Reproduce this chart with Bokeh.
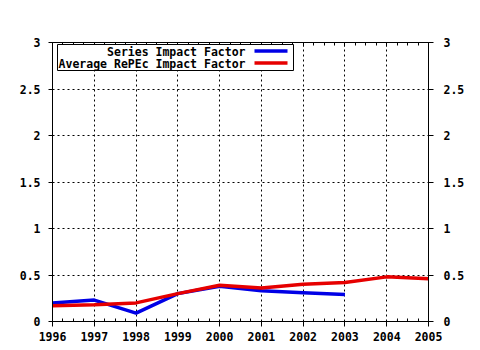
from bokeh.plotting import figure
from bokeh.models import (Range1d, LinearAxis, FixedTicker, BoxAnnotation, Label, CustomJSTickFormatter)
from bokeh.embed import file_html
from bokeh.resources import INLINE

years = [1996, 1997, 1998, 1999, 2000, 2001, 2002, 2003, 2004, 2005]
series_years = [1996, 1997, 1998, 1999, 2000, 2001, 2002, 2003]
series_if = [0.20, 0.23, 0.09, 0.30, 0.38, 0.33, 0.31, 0.29]
avg_years = [1996, 1997, 1998, 1999, 2000, 2001, 2002, 2003, 2004, 2005]
avg_if = [0.17, 0.18, 0.20, 0.30, 0.39, 0.36, 0.40, 0.42, 0.48, 0.46]
y_ticks = [0, 0.5, 1, 1.5, 2, 2.5, 3]
y_tick_labels = ["0", "0.5", "1", "1.5", "2", "2.5", "3"]
series_names = ["Series Impact Factor", "Average RePEc Impact Factor"]
colors = ["#0000e6", "#e60000"]

FONT = "DejaVu Sans Mono"
FS = "11.5px"

p = figure(width=480, height=350, output_backend="svg", toolbar_location=None,
           x_range=Range1d(1996, 2005), y_range=Range1d(0, 3),
           min_border_left=52, min_border_right=52, min_border_top=42, min_border_bottom=29,
           x_axis_location=None, y_axis_location=None)
p.background_fill_color = "white"
p.border_fill_color = "white"
p.outline_line_color = "black"
p.outline_line_width = 1

overrides = {t: l for t, l in zip(y_ticks, y_tick_labels)}
minor_x = [y + q / 4 for y in years[:-1] for q in (1, 2, 3)]

def style(ax):
    ax.axis_line_color = "black"
    ax.major_tick_line_color = "black"
    ax.minor_tick_line_color = "black"
    ax.major_label_text_font = FONT
    ax.major_label_text_font_style = "bold"
    ax.major_label_text_font_size = FS
    ax.major_label_text_color = "black"

bottom = LinearAxis(ticker=FixedTicker(ticks=years, minor_ticks=minor_x))
style(bottom)
bottom.major_tick_out = 5
bottom.major_tick_in = 0
bottom.minor_tick_in = 3
bottom.minor_tick_out = 0
bottom.major_label_standoff = 5
p.add_layout(bottom, "below")

top = LinearAxis(ticker=FixedTicker(ticks=years, minor_ticks=minor_x),
                 formatter=CustomJSTickFormatter(code="return ''"))
style(top)
top.major_tick_out = 0
top.major_tick_in = 4
top.minor_tick_in = 3
top.minor_tick_out = 0
top.major_label_standoff = 0
p.add_layout(top, "above")

left = LinearAxis(ticker=FixedTicker(ticks=y_ticks), major_label_overrides=overrides)
style(left)
left.major_tick_out = 4
left.major_tick_in = 0
left.minor_tick_in = 0
left.minor_tick_out = 0
left.major_label_standoff = 8
p.add_layout(left, "left")

right = LinearAxis(ticker=FixedTicker(ticks=y_ticks), major_label_overrides=overrides)
style(right)
right.major_tick_out = 5
right.major_tick_in = 0
right.minor_tick_in = 0
right.minor_tick_out = 0
right.major_label_standoff = 10
p.add_layout(right, "right")

p.xgrid.ticker = FixedTicker(ticks=years)
p.ygrid.ticker = FixedTicker(ticks=y_ticks)
for g in (p.xgrid, p.ygrid):
    g.grid_line_color = "black"
    g.grid_line_dash = "2 3"
    g.grid_line_width = 1

p.line(series_years, series_if, line_color=colors[0], line_width=3.5)
p.line(avg_years, avg_if, line_color=colors[1], line_width=3.5)

# legend (drawn manually: text right-aligned, sample line on the right)
def px_x(px):
    return 1996 + (px - 52) * 9 / 376

def px_y(py):
    return (321 - py) / 93

p.add_layout(BoxAnnotation(left=px_x(57), right=px_x(293), top=px_y(44), bottom=px_y(70),
                           fill_color="white", fill_alpha=1, line_color="black",
                           line_alpha=1, line_width=1))
rows_y = [51.5, 63.5]
for name, col, ry in zip(series_names, colors, rows_y):
    p.add_layout(Label(x=px_x(245), y=px_y(ry), text=name, text_align="right",
                       text_baseline="middle", text_font=FONT, text_font_style="bold",
                       text_font_size=FS, text_color="black"))
seg = p.segment(x0=[px_x(254)] * 2, x1=[px_x(287)] * 2, y0=[px_y(r - 1) for r in rows_y],
                y1=[px_y(r - 1) for r in rows_y], line_color=colors, line_width=3.5)
seg.level = "overlay"

open("out.html", "w").write(file_html(p, INLINE))
